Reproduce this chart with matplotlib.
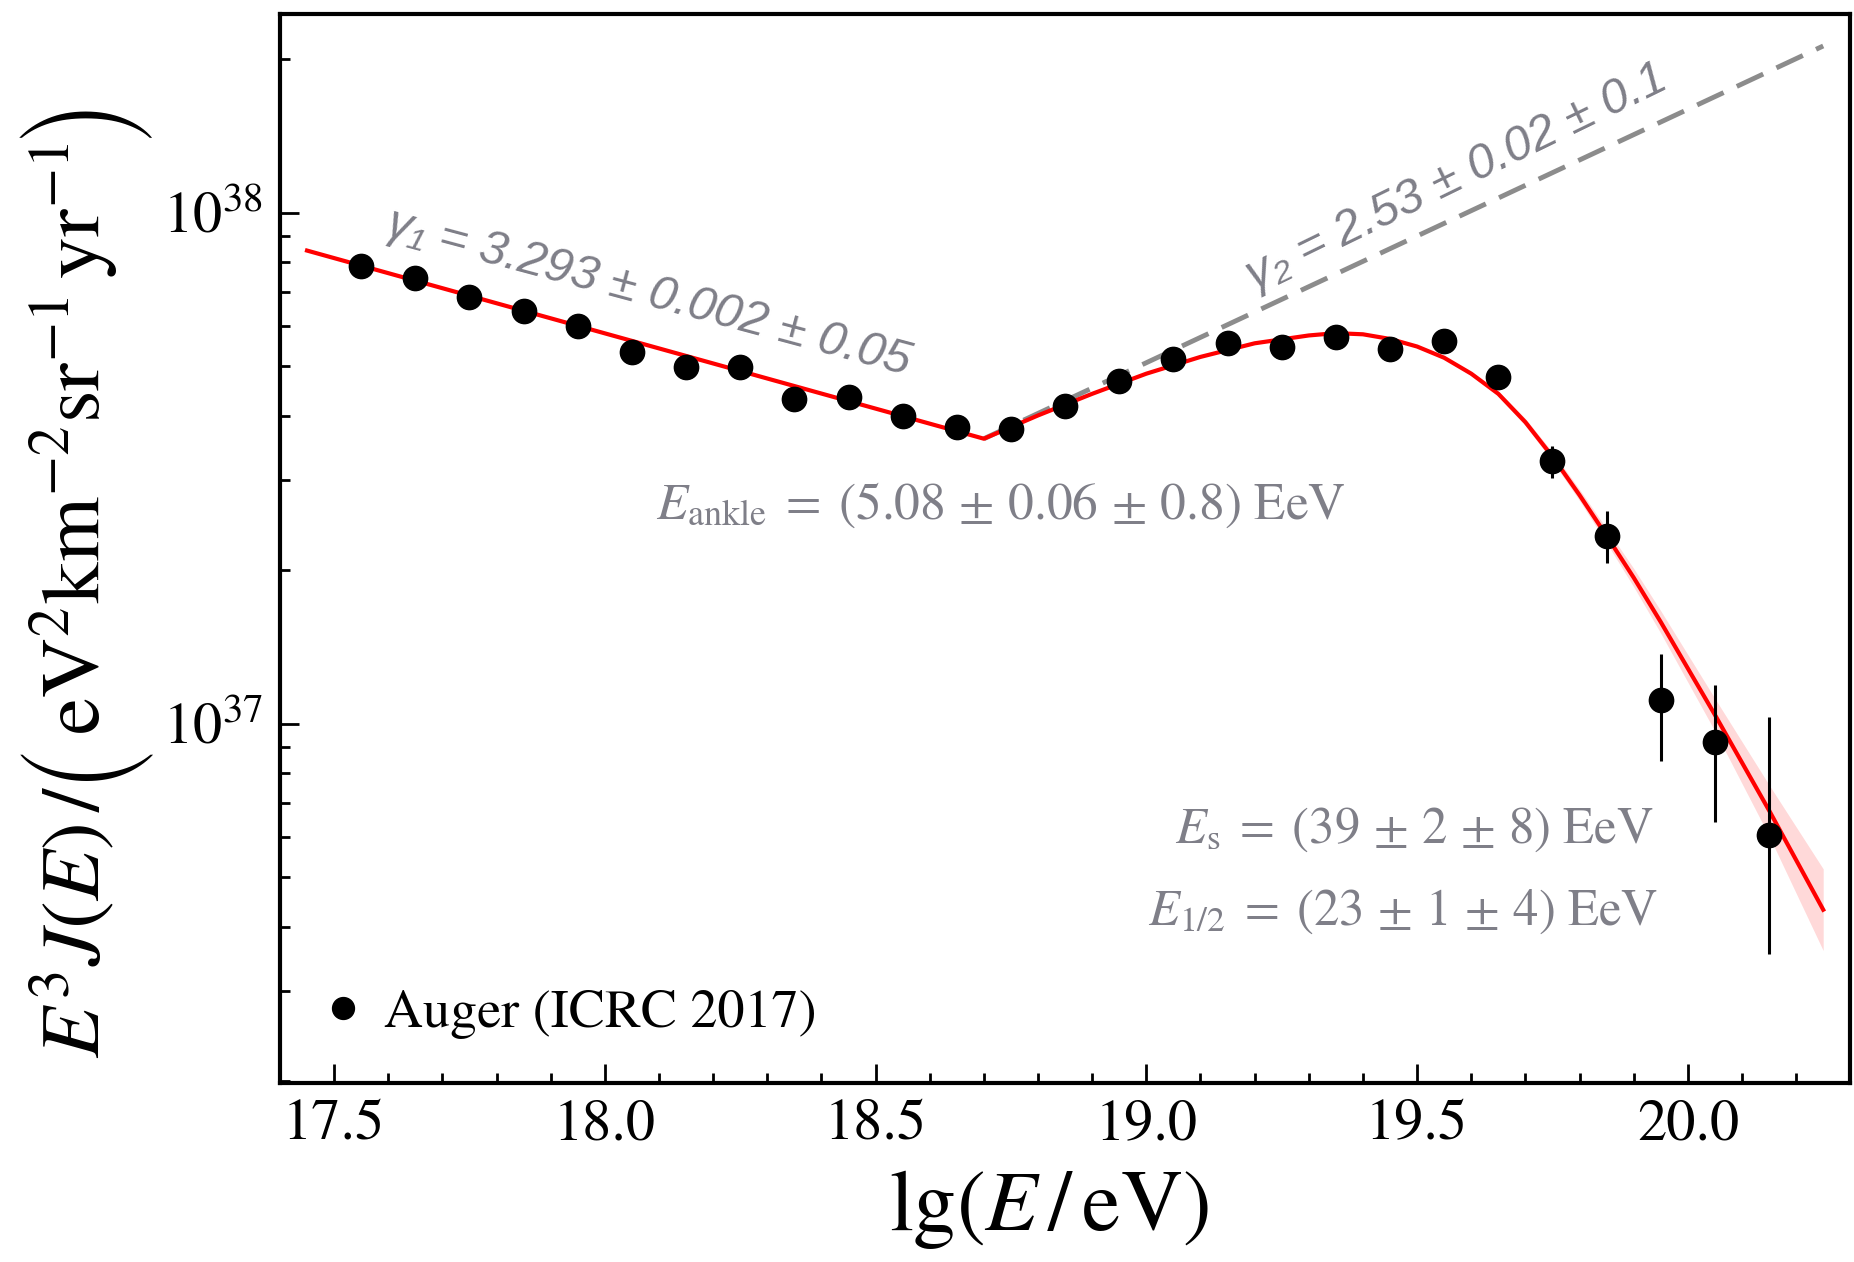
import matplotlib
matplotlib.use('Agg')
import numpy as np
import matplotlib.pyplot as plt
from matplotlib.ticker import MultipleLocator, LogLocator, NullFormatter
from matplotlib.transforms import IdentityTransform

# serif look close to the original (Palatino-like)
plt.rcParams['font.family'] = ['STIXGeneral', 'DejaVu Serif']
plt.rcParams['mathtext.fontset'] = 'stix'

# Auger ICRC 2017 points, lg(E/eV) bin centres and E^3 J(E)
lgE = [17.55, 17.65, 17.75, 17.85, 17.95, 18.05, 18.15, 18.25, 18.35,
       18.45, 18.55, 18.65, 18.75, 18.85, 18.95, 19.05, 19.15, 19.25,
       19.35, 19.45, 19.55, 19.65, 19.75, 19.85, 19.95, 20.05, 20.15]
flux = [7.85e37, 7.46e37, 6.85e37, 6.41e37, 5.99e37, 5.33e37, 4.98e37,
        4.98e37, 4.31e37, 4.35e37, 4.00e37, 3.80e37, 3.77e37, 4.18e37,
        4.68e37, 5.16e37, 5.57e37, 5.47e37, 5.72e37, 5.42e37, 5.60e37,
        4.76e37, 3.27e37, 2.33e37, 1.11e37, 9.2e36, 6.04e36]

# visible error bars (the others are hidden behind the markers)
err_lgE = [19.75, 19.85, 19.95, 20.05, 20.15]
err_top = [3.49e37, 2.61e37, 1.37e37, 1.19e37, 1.03e37]
err_bot = [3.02e37, 2.06e37, 8.44e36, 6.41e36, 3.54e36]

# fitted spectrum
fit_lgE = [17.45, 18.70, 18.80, 18.90, 19.00, 19.10, 19.20, 19.30, 19.35,
           19.40, 19.45, 19.50, 19.55, 19.60, 19.65, 19.70, 19.75, 19.80,
           19.85, 19.90, 19.95, 20.05, 20.15, 20.25]
fit_flux = [8.43e37, 3.61e37, 4.01e37, 4.42e37, 4.84e37, 5.22e37, 5.55e37,
            5.75e37, 5.81e37, 5.78e37, 5.66e37, 5.47e37, 5.20e37, 4.84e37,
            4.42e37, 3.89e37, 3.33e37, 2.80e37, 2.33e37, 1.93e37, 1.58e37,
            1.04e37, 6.76e36, 4.32e36]
# half width of the pink uncertainty band (decades), fit points from 19.50 on
band_dex = [0.0, 0.002, 0.004, 0.005, 0.007, 0.009, 0.011, 0.014, 0.018,
            0.022, 0.032, 0.050, 0.080]

# gamma_2 power law continued above the ankle
dash_lgE = [18.70, 20.25]
dash_flux = [3.61e37, 2.12e38]

gray = '#7f7f88'

fig = plt.figure(figsize=(18.54, 12.62), dpi=100)
ax = fig.add_axes([0.151, 0.142, 0.847, 0.847])
ax.set_yscale('log')

ax.plot(dash_lgE, dash_flux, color='#8c8c8c', lw=3.5, dashes=(6, 3), zorder=1)

n_band = len(band_dex)
b_x = np.array(fit_lgE[-n_band:])
b_y = np.array(fit_flux[-n_band:])
b_w = 10 ** np.array(band_dex)
ax.fill_between(b_x, b_y / b_w, b_y * b_w, color='red', alpha=0.15, lw=0, zorder=2)
ax.plot(fit_lgE, fit_flux, color='red', lw=3, zorder=3)

ax.vlines(err_lgE, err_bot, err_top, color='black', lw=2.2, zorder=4)
ax.plot(lgE, flux, 'o', color='black', ms=17.5, zorder=5, label='Auger (ICRC 2017)')

ax.set_xlim(17.40, 20.30)
ax.set_ylim(1.98e36, 2.45e38)

ax.set_xticks([17.5, 18.0, 18.5, 19.0, 19.5, 20.0])
ax.set_xticklabels(['17.5', '18.0', '18.5', '19.0', '19.5', '20.0'])
ax.xaxis.set_minor_locator(MultipleLocator(0.1))
ax.set_yticks([1e37, 1e38])
ax.set_yticklabels([r'$10^{37}$', r'$10^{38}$'])
ax.yaxis.set_minor_locator(LogLocator(base=10, subs=np.arange(2, 10)))
ax.yaxis.set_minor_formatter(NullFormatter())

ax.tick_params(which='both', direction='in', top=False, right=False, width=2)
ax.tick_params(which='major', length=14, labelsize=42, pad=12)
ax.tick_params(which='minor', length=7)
for sp in ax.spines.values():
    sp.set_linewidth(3)

ax.set_xlabel(r'$\mathrm{lg}(E\,/\,\mathrm{eV})$', fontsize=62)
ax.xaxis.set_label_coords(0.49, -0.08)

# y label built from pieces so the brackets can be big (like \Bigg)
renderer = fig.canvas.get_renderer()
pix = IdentityTransform()
base_x = 100          # baseline of the rotated label, pixels from the left
cur_y = 1262 - 1058   # where the label starts, pixels from the bottom
y_parts = [(r'$E^3 J(E)\,/\,$', 'body'), ('(', 'paren'),
           (r'$\mathrm{eV}^2\mathrm{km}^{-2}\mathrm{sr}^{-1}\,\mathrm{yr}^{-1}$', 'body'),
           (')', 'paren')]
for s, kind in y_parts:
    if kind == 'body':
        t = fig.text(base_x, cur_y, s, transform=pix, fontsize=60, rotation=90,
                     rotation_mode='anchor', ha='left', va='baseline')
    else:
        t = fig.text(base_x - 22, cur_y + 4, s, transform=pix, fontsize=52,
                     family='STIXSizeTwoSym', rotation=90,
                     rotation_mode='anchor', ha='left', va='center')
    cur_y = t.get_window_extent(renderer).y1 + 2

# fit annotations
ax.text(0.2348, 0.7388, 'γ₁ = 3.293 ± 0.002 ± 0.05', transform=ax.transAxes,
        family=['Liberation Sans', 'DejaVu Sans'], style='italic', fontsize=35,
        color=gray, rotation=-15, rotation_mode='anchor', ha='center', va='center')
ax.text(0.7497, 0.8470, 'γ₂ = 2.53 ± 0.02 ± 0.1', transform=ax.transAxes,
        family=['Liberation Sans', 'DejaVu Sans'], style='italic', fontsize=35,
        color=gray, rotation=26, rotation_mode='anchor', ha='center', va='center')
ax.text(0.4592, 0.5402, r'$E_{\mathrm{ankle}}\;=\;(5.08\,\pm\,0.06\,\pm\,0.8)\ \mathrm{EeV}$',
        transform=ax.transAxes, fontsize=37, color=gray, ha='center', va='center')
ax.text(0.8745, 0.2367, r'$E_{\mathrm{s}}\;=\;(39\,\pm\,2\,\pm\,8)\ \mathrm{EeV}$',
        transform=ax.transAxes, fontsize=36.5, color=gray, ha='right', va='center')
ax.text(0.8777, 0.1600, r'$E_{1/2}\;=\;(23\,\pm\,1\,\pm\,4)\ \mathrm{EeV}$',
        transform=ax.transAxes, fontsize=36.5, color=gray, ha='right', va='center')

ax.legend(loc='center left', bbox_to_anchor=(0.023, 0.0645), frameon=False,
          fontsize=39, handlelength=1.0, handletextpad=0.25, borderpad=0,
          borderaxespad=0, markerscale=0.9)

fig.savefig('out.png', dpi=100)
